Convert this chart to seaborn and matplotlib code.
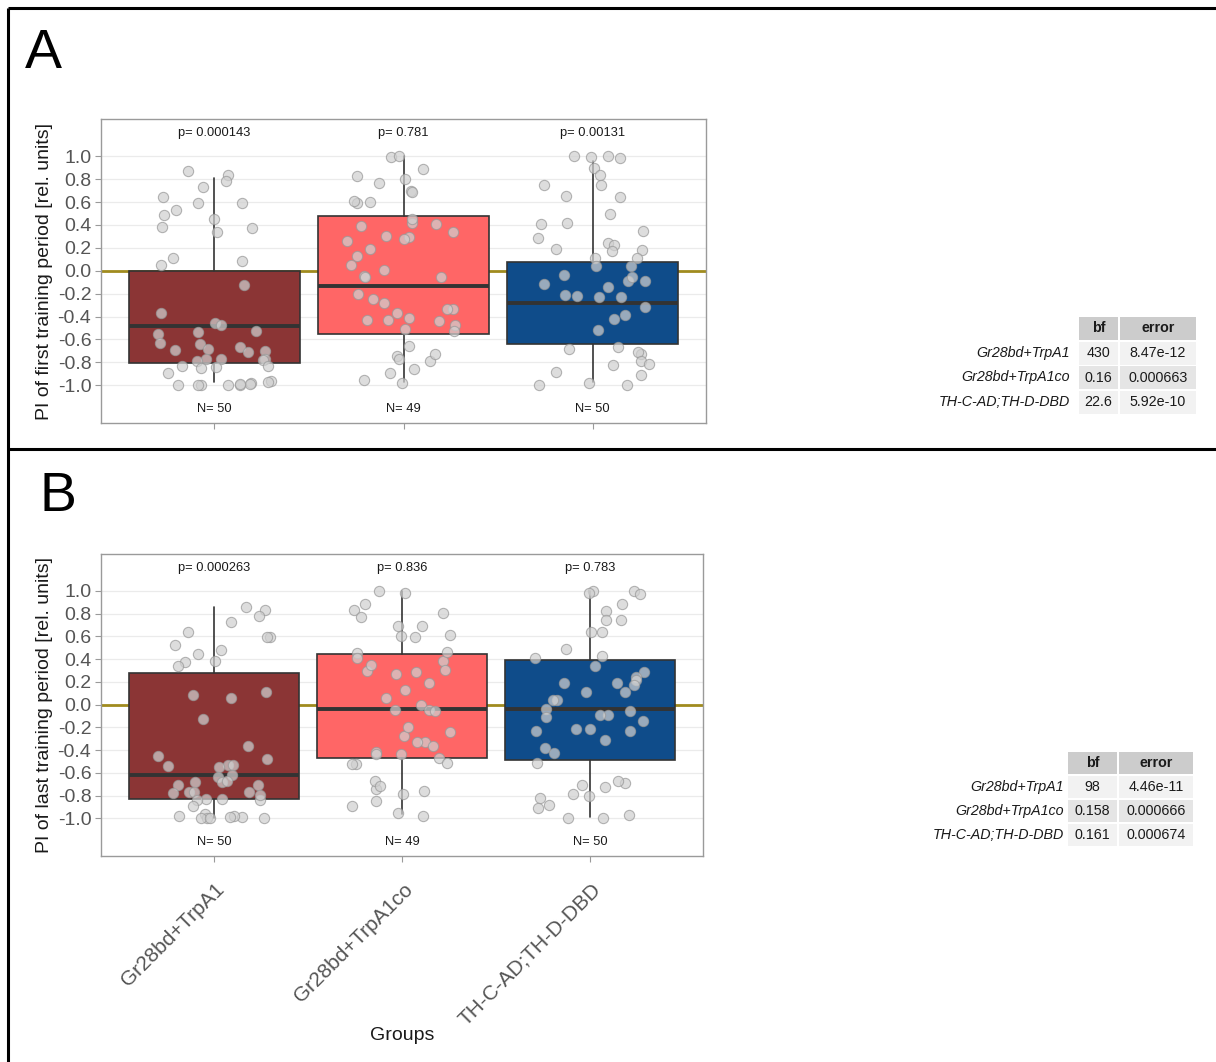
import numpy as np
import pandas as pd
import matplotlib
matplotlib.use("Agg")
import matplotlib.pyplot as plt
import matplotlib.transforms as mtransforms
from matplotlib.patches import Rectangle
import seaborn as sns

sns.set_theme(style="white")
plt.rcParams["font.family"] = ["Liberation Sans", "DejaVu Sans"]
plt.rcParams["axes.unicode_minus"] = False

# ---- data -----------------------------------------------------------------
groups = ["Gr28bd+TrpA1", "Gr28bd+TrpA1co", "TH-C-AD;TH-D-DBD"]
box_colors = ["#8B3535", "#FF6666", "#0F4C8A"]

# PI of the first training period, per fly
first_g1 = [0.868, 0.838, 0.78, 0.728, 0.64, 0.594, 0.59, 0.527, 0.489, 0.448,
            0.381, 0.373, 0.338, 0.111, 0.087, 0.052, -0.128, -0.367, -0.454, -0.477,
            -0.53, -0.55, -0.539, -0.629, -0.64, -0.699, -0.69, -0.687, -0.667, -0.71,
            -0.774, -0.774, -0.783, -0.771, -0.789, -0.833, -0.833, -0.85, -0.89, -0.844,
            -0.964, -0.996, -0.978, -1.0, -0.99, -1.0, -1.0, -0.987, -0.972, -1.0]
first_g2 = [0.993, 0.885, 0.769, 0.693, 0.798, 0.687, 0.594, 0.606, 0.827, 0.416,
            0.338, 0.291, 0.262, 0.303, 0.387, 0.128, 0.003, -0.047, -0.245, -0.282,
            -0.338, -0.37, -0.41, -0.437, -0.434, -0.472, -0.512, -0.53, -0.745, -0.769,
            -0.856, -0.894, -0.958, -0.792, 1.0, 0.6, 0.448, 0.279, 0.192, 0.052,
            -0.055, -0.052, -0.332, -0.428, -0.661, -0.728, -0.978, 0.41, -0.2]
first_g3 = [1.0, 0.984, 1.0, 0.99, 0.897, 0.833, 0.751, 0.745, 0.649, 0.643,
            0.495, 0.419, 0.41, 0.346, 0.245, 0.288, 0.221, 0.192, 0.183, 0.169,
            0.111, 0.111, 0.038, 0.041, -0.041, -0.093, -0.058, -0.146, -0.093, -0.114,
            -0.233, -0.221, -0.215, -0.23, -0.317, -0.39, -0.425, -0.515, -0.667, -0.681,
            -0.731, -0.71, -0.792, -0.812, -0.827, -0.885, -0.914, -0.978, -1.0, -1.0]

# PI of the last training period, per fly
last_g1 = [0.863, 0.833, 0.784, 0.725, 0.637, 0.591, 0.599, 0.526, 0.482, 0.45,
           0.374, 0.38, 0.336, 0.114, 0.088, 0.056, -0.126, -0.36, -0.45, -0.474,
           -0.526, -0.526, -0.535, -0.547, -0.62, -0.637, -0.702, -0.681, -0.667, -0.702,
           -0.681, -0.766, -0.766, -0.769, -0.778, -0.827, -0.827, -0.836, -0.842, -0.892,
           -0.985, -0.965, -1.0, -1.0, -1.0, -0.98, -1.0, -0.98, -0.988, -0.79]
last_g2 = [0.883, 0.833, 0.804, 0.769, 0.693, 0.693, 0.605, 0.614, 0.591, 0.38,
           0.298, 0.304, 0.345, 0.287, 0.269, 0.132, 0.058, 0.0, -0.044, -0.053,
           -0.33, -0.33, -0.363, -0.433, -0.468, -0.515, -0.52, -0.52, -0.415, -0.737,
           -0.784, -0.892, -0.974, 0.985, 1.0, 0.459, 0.462, 0.409, 0.19, -0.044,
           -0.24, -0.278, -0.433, -0.667, -0.716, -0.76, -0.848, -0.95, -0.2]
last_g3 = [1.0, 0.971, 1.0, 0.98, 0.883, 0.827, 0.746, 0.746, 0.635, 0.643,
           0.488, 0.424, 0.409, 0.342, 0.287, 0.243, 0.216, 0.175, 0.187, 0.19,
           0.108, 0.041, 0.038, 0.108, -0.035, -0.053, -0.111, -0.094, -0.094, -0.14,
           -0.228, -0.216, -0.307, -0.228, -0.21, -0.38, -0.424, -0.512, -0.702, -0.725,
           -0.687, -0.667, -0.784, -0.804, -0.819, -0.883, -0.912, -0.971, -1.0, -1.0]

# box summaries (lower whisker, Q1, median, Q3, upper whisker)
first_lo = [-0.97, -0.97, -0.97]
first_q1 = [-0.81, -0.555, -0.64]
first_med = [-0.482, -0.133, -0.278]
first_q3 = [0.0, 0.476, 0.074]
first_hi = [0.81, 1.0, 0.96]

last_lo = [-1.0, -0.965, -0.99]
last_q1 = [-0.827, -0.468, -0.49]
last_med = [-0.62, -0.038, -0.035]
last_q3 = [0.283, 0.45, 0.395]
last_hi = [0.862, 1.0, 1.0]

p_first = ["0.000143", "0.781", "0.00131"]
p_last = ["0.000263", "0.836", "0.783"]

# Bayes factor tables
bf_first = ["430", "0.16", "22.6"]
err_first = ["8.47e-12", "0.000663", "5.92e-10"]
bf_last = ["98", "0.158", "0.161"]
err_last = ["4.46e-11", "0.000666", "0.000674"]

ytick_values = [-1.0, -0.8, -0.6, -0.4, -0.2, 0.0, 0.2, 0.4, 0.6, 0.8, 1.0]
ytick_labels = ["-1.0", "-0.8", "-0.6", "-0.4", "-0.2", "0.0", "0.2", "0.4", "0.6", "0.8", "1.0"]

# ---- figure -----------------------------------------------------------------
W, H = 1216, 1062
fig = plt.figure(figsize=(W / 100, H / 100), dpi=100)
fig.patch.set_facecolor("white")

# background layer in pixel units for frame, panel letters and tables
bg = fig.add_axes([0, 0, 1, 1], zorder=0)
bg.set_xlim(0, W)
bg.set_ylim(H, 0)
bg.axis("off")
frame_kw = dict(color="black", lw=2.2, solid_capstyle="butt")
bg.plot([8, W], [8, 8], **frame_kw)
bg.plot([8, 8], [8, H], **frame_kw)
bg.plot([8, W], [449, 449], **frame_kw)
bg.text(43, 54, "A", fontsize=40, ha="center", va="center", color="black")
bg.text(58, 497, "B", fontsize=40, ha="center", va="center", color="black")


def draw_table(label_right, bf_x, bf_w, err_x, err_w, head_top, head_h, row_h, bf, err):
    bg.add_patch(Rectangle((bf_x, head_top), bf_w, head_h, facecolor="#CCCCCC", edgecolor="none"))
    bg.add_patch(Rectangle((err_x, head_top), err_w, head_h, facecolor="#CCCCCC", edgecolor="none"))
    cy = head_top + head_h / 2
    bg.text(bf_x + bf_w / 2, cy, "bf", fontsize=10.3, fontweight="bold", ha="center", va="center", color="#1A1A1A")
    bg.text(err_x + err_w / 2, cy, "error", fontsize=10.3, fontweight="bold", ha="center", va="center", color="#1A1A1A")
    for i, (name, b, e) in enumerate(zip(groups, bf, err)):
        top = head_top + head_h + 1.5 + i * row_h
        fill = "#F2F2F2" if i % 2 == 0 else "#E5E5E5"
        bg.add_patch(Rectangle((bf_x, top), bf_w, row_h - 1.5, facecolor=fill, edgecolor="none"))
        bg.add_patch(Rectangle((err_x, top), err_w, row_h - 1.5, facecolor=fill, edgecolor="none"))
        ry = top + (row_h - 1.5) / 2
        bg.text(label_right, ry, name, fontsize=10.3, fontstyle="italic", ha="right", va="center", color="#1A1A1A")
        bg.text(bf_x + bf_w / 2, ry, b, fontsize=10.3, ha="center", va="center", color="#1A1A1A")
        bg.text(err_x + err_w / 2, ry, e, fontsize=10.3, ha="center", va="center", color="#1A1A1A")


draw_table(1070, 1079, 39, 1120, 76, 317, 23, 24.5, bf_first, err_first)
draw_table(1064, 1068, 49, 1119, 74, 752, 22, 24, bf_last, err_last)


def draw_panel(rect, values, lo, q1, med, q3, hi, pvals, ylabel, show_x):
    ax = fig.add_axes(rect, zorder=1)
    ax.set_facecolor("white")

    stats = [dict(whislo=a, q1=b, med=c, q3=d, whishi=e, fliers=[])
             for a, b, c, d, e in zip(lo, q1, med, q3, hi)]
    bp = ax.bxp(stats, positions=[0, 1, 2], widths=0.9, patch_artist=True,
                showcaps=False, showfliers=False, manage_ticks=False,
                boxprops=dict(edgecolor="#333333", linewidth=1.2),
                medianprops=dict(color="#333333", linewidth=2.8),
                whiskerprops=dict(color="#333333", linewidth=1.2),
                zorder=2)
    for patch, c in zip(bp["boxes"], box_colors):
        patch.set_facecolor(c)

    df = pd.DataFrame({
        "group": np.repeat(groups, [len(v) for v in values]),
        "value": np.concatenate(values),
    })
    n_before = len(ax.collections)
    sns.stripplot(data=df, x="group", y="value", order=groups, jitter=0.3,
                  size=7.4, color="#D0D0D0", edgecolor="#999999", linewidth=0.8,
                  alpha=0.72, ax=ax)
    for coll in ax.collections[n_before:]:
        coll.set_zorder(4)

    ax.axhline(0, color="#A08B1E", lw=2.0, zorder=1.5)

    for i, (p, v) in enumerate(zip(pvals, values)):
        ax.text(i, 1.2, f"p= {p}", ha="center", va="center", fontsize=9.3, color="#1A1A1A", zorder=5)
        ax.text(i, -1.21, f"N= {len(v)}", ha="center", va="center", fontsize=9.3, color="#1A1A1A", zorder=5)

    ax.set_xlim(-0.6, 2.6)
    ax.set_ylim(-1.33, 1.325)
    ax.set_yticks(ytick_values)
    ax.set_yticklabels(ytick_labels)
    ax.grid(axis="y", color="#EBEBEB", lw=0.9)
    ax.grid(axis="x", visible=False)
    ax.set_axisbelow(True)
    for s in ax.spines.values():
        s.set_color("#9A9A9A")
        s.set_linewidth(1.0)
    ax.tick_params(axis="both", left=True, bottom=True, length=4, width=0.8,
                   color="#9A9A9A", labelsize=14, labelcolor="#555555", pad=3)
    ax.set_ylabel(ylabel, fontsize=14, color="#1A1A1A")
    ax.yaxis.set_label_coords(-0.08, 0.5)

    if show_x:
        ax.tick_params(axis="x", pad=13, labelsize=15)
        offset = mtransforms.ScaledTranslation(1 / 100, 0, fig.dpi_scale_trans)
        for lab in ax.get_xticklabels():
            lab.set_rotation(45)
            lab.set_ha("right")
            lab.set_va("top")
            lab.set_rotation_mode("anchor")
            lab.set_transform(lab.get_transform() + offset)
        ax.set_xlabel("Groups", fontsize=14, color="#1A1A1A")
        ax.xaxis.set_label_coords(0.5, -0.565)
    else:
        ax.tick_params(axis="x", labelbottom=False)
        ax.set_xlabel("")
    return ax


draw_panel([101 / W, 1 - 423 / H, 605 / W, 304 / H],
           [first_g1, first_g2, first_g3],
           first_lo, first_q1, first_med, first_q3, first_hi,
           p_first, "PI of first training period [rel. units]", False)
draw_panel([101 / W, 1 - 856 / H, 602 / W, 302 / H],
           [last_g1, last_g2, last_g3],
           last_lo, last_q1, last_med, last_q3, last_hi,
           p_last, "PI of last training period [rel. units]", True)

fig.savefig("out.png", dpi=100, facecolor="white")
